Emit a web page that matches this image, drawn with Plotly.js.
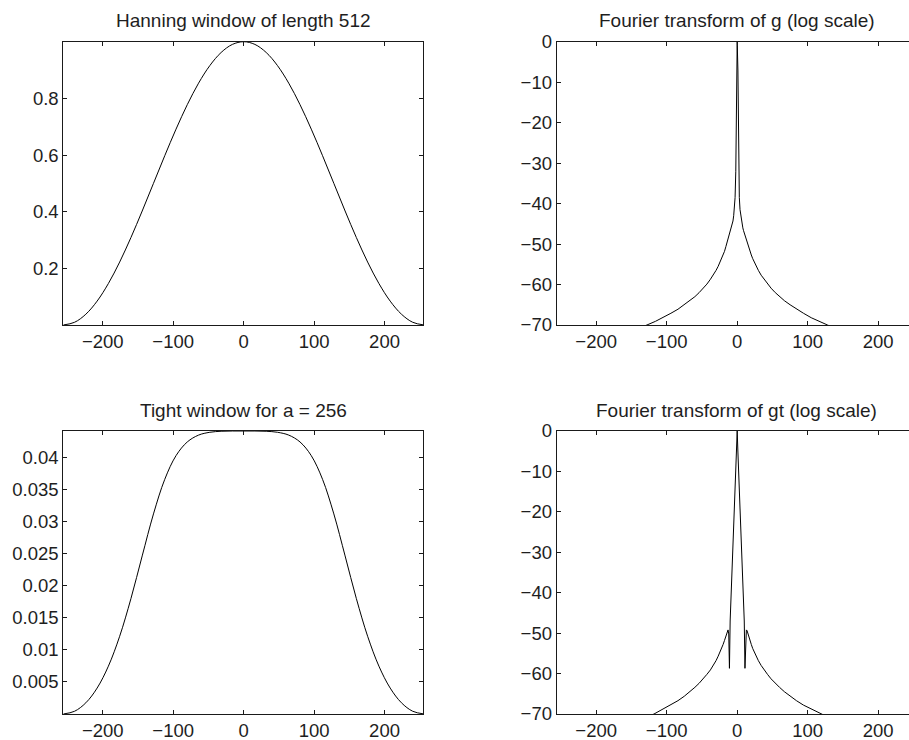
<!DOCTYPE html>
<html>
<head>
<meta charset="utf-8">
<script src="https://cdn.plot.ly/plotly-3.0.1.min.js"></script>
<style>
  html, body { margin: 0; padding: 0; overflow: hidden; background: #fff; }
  #chart { width: 920px; height: 740px; }
</style>
</head>
<body>
<div id="chart"></div>
<script>
// ---- Data ----
// Hanning window of length 512
const hannX = [-256,-240,-224,-208,-192,-176,-160,-144,-128,-112,-96,-80,-64,-48,-32,-16,0,
               16,32,48,64,80,96,112,128,144,160,176,192,208,224,240,256];
const hannY = [0,0.0096,0.0381,0.0843,0.1464,0.2222,0.3087,0.4024,0.5,0.5976,0.6913,0.7778,0.8536,0.9157,0.9619,0.9904,1,
               0.9904,0.9619,0.9157,0.8536,0.7778,0.6913,0.5976,0.5,0.4024,0.3087,0.2222,0.1464,0.0843,0.0381,0.0096,0];

// Tight window for a = 256
const tightX = [-256,-240,-224,-208,-192,-176,-160,-144,-128,-112,-96,-80,-64,-48,-32,-16,0,
                16,32,48,64,80,96,112,128,144,160,176,192,208,224,240,256];
const tightY = [0,0.00043,0.00175,0.00405,0.00747,0.01214,0.01802,0.02469,0.03125,0.03665,0.04035,0.04249,0.04356,0.0440,0.04416,0.0442,0.0442,
                0.0442,0.04416,0.0440,0.04356,0.04249,0.04035,0.03665,0.03125,0.02469,0.01802,0.01214,0.00747,0.00405,0.00175,0.00043,0];

// Fourier transform of g (dB)
const fgX = [-255,-220,-190,-165,-145,-128,-116,-105,-94,-84,-75,-67,-60,-54,-48,-43,-38,-34,-30,-27,-24,-22,-20,-18,-16,-14,-12,-10,-9,-8,-7,-6,-5,-4,-3,-2,-1,0,
             1,2,3,4,5,6,7,8,9,10,12,14,16,18,20,22,24,27,30,34,38,43,48,54,60,67,75,84,94,105,116,128,145,165,190,220,255];
const fgY = [-76.4,-75.0,-73.7,-72.4,-71.2,-70,-69.1,-68.2,-67.1,-66.1,-65.0,-64.0,-63.0,-62.0,-60.9,-59.9,-58.7,-57.7,-56.5,-55.5,-54.4,-53.6,-52.7,-51.8,-50.6,-49.4,-48.4,-47.3,-46.7,-46.0,-45.2,-44.3,-43,-41.5,-38.5,-32,-7,0,
             -7,-32,-38.5,-41.5,-43,-44.3,-45.2,-46.0,-46.7,-47.3,-48.4,-49.4,-50.6,-51.8,-52.7,-53.6,-54.4,-55.5,-56.5,-57.7,-58.7,-59.9,-60.9,-62.0,-63.0,-64.0,-65.0,-66.1,-67.1,-68.2,-69.1,-70,-71.2,-72.4,-73.7,-75.0,-76.4];

// Fourier transform of gt (dB)
const fgtX = [-255,-215,-180,-155,-135,-118,-105,-94,-84,-75,-67,-60,-54,-48,-43,-38,-34,-30,-27,-24,-22,-20,-18,-16,-14,-13,-12,-11,-10,-9,-8,-7,-6,-5,-4,-3,-2,-1,0,
              1,2,3,4,5,6,7,8,9,10,11,12,13,14,16,18,20,22,24,27,30,34,38,43,48,54,60,67,75,84,94,105,118,135,155,180,215,255];
const fgtY = [-77.4,-75.7,-74.0,-72.6,-71.3,-70,-68.8,-67.8,-66.7,-65.6,-64.5,-63.4,-62.4,-61.3,-60.2,-59.1,-58.0,-56.8,-55.7,-54.6,-53.8,-52.8,-51.8,-50.7,-49.4,-49.2,-50.2,-58.7,-47,-42.5,-38.8,-35,-30.6,-25.8,-20.8,-15.6,-10.4,-5.2,0,
              -5.2,-10.4,-15.6,-20.8,-25.8,-30.6,-35,-38.8,-42.5,-47,-58.7,-50.2,-49.2,-49.4,-50.7,-51.8,-52.8,-53.8,-54.6,-55.7,-56.8,-58.0,-59.1,-60.2,-61.3,-62.4,-63.4,-64.5,-65.6,-66.7,-67.8,-68.8,-70,-71.3,-72.6,-74.0,-75.7,-77.4];

// Tick labels
const xTicks = [-200,-100,0,100,200];
const xTickText = ['\u2212200','\u2212100','0','100','200'];
const hannTicks = [0.2,0.4,0.6,0.8];
const hannTickText = ['0.2','0.4','0.6','0.8'];
const tightTicks = [0.005,0.01,0.015,0.02,0.025,0.03,0.035,0.04];
const tightTickText = ['0.005','0.01','0.015','0.02','0.025','0.03','0.035','0.04'];
const dbTicks = [-70,-60,-50,-40,-30,-20,-10,0];
const dbTickText = ['\u221270','\u221260','\u221250','\u221240','\u221230','\u221220','\u221210','0'];

const titles = ['Hanning window of length 512','Fourier transform of g (log scale)',
                'Tight window for a = 256','Fourier transform of gt (log scale)'];

// ---- Layout ----
const W = 920, H = 740;
const fontFam = 'Liberation Sans, Arial, Helvetica, sans-serif';
const txtColor = '#1e1e1e';
const lineStyle = {color: '#000', width: 1};

function axisBase(extra) {
  return Object.assign({
    showline: true, mirror: 'allticks', linecolor: '#1a1a1a', linewidth: 1,
    ticks: 'inside', ticklen: 4, tickcolor: '#1a1a1a', tickwidth: 1,
    showgrid: false, zeroline: false, fixedrange: true,
    tickfont: {family: fontFam, size: 18.5, color: txtColor},
    tickmode: 'array'
  }, extra);
}

const colL = [63.3 / W, 423.3 / W];
const colR = [556.7 / W, 917 / W];
const rowT = [1 - 325 / H, 1 - 41.7 / H];
const rowB = [1 - 714 / H, 1 - 431 / H];

const traces = [
  {x: hannX, y: hannY, xaxis: 'x', yaxis: 'y', type: 'scatter', mode: 'lines', line: Object.assign({shape: 'spline'}, lineStyle), hoverinfo: 'skip'},
  {x: fgX, y: fgY, xaxis: 'x2', yaxis: 'y2', type: 'scatter', mode: 'lines', line: lineStyle, hoverinfo: 'skip'},
  {x: tightX, y: tightY, xaxis: 'x3', yaxis: 'y3', type: 'scatter', mode: 'lines', line: Object.assign({shape: 'spline'}, lineStyle), hoverinfo: 'skip'},
  {x: fgtX, y: fgtY, xaxis: 'x4', yaxis: 'y4', type: 'scatter', mode: 'lines', line: lineStyle, hoverinfo: 'skip'}
];

const xCommon = {range: [-256, 255], tickvals: xTicks, ticktext: xTickText};

const layout = {
  width: W, height: H,
  margin: {l: 0, r: 0, t: 0, b: 0},
  paper_bgcolor: '#fff', plot_bgcolor: '#fff',
  showlegend: false,
  font: {family: fontFam, color: txtColor},
  xaxis:  axisBase(Object.assign({domain: colL, anchor: 'y'}, xCommon)),
  yaxis:  axisBase({domain: rowT, anchor: 'x', range: [0, 1], tickvals: hannTicks, ticktext: hannTickText}),
  xaxis2: axisBase(Object.assign({domain: colR, anchor: 'y2'}, xCommon)),
  yaxis2: axisBase({domain: rowT, anchor: 'x2', range: [-70, 0], tickvals: dbTicks, ticktext: dbTickText}),
  xaxis3: axisBase(Object.assign({domain: colL, anchor: 'y3'}, xCommon)),
  yaxis3: axisBase({domain: rowB, anchor: 'x3', range: [0, 0.0442], tickvals: tightTicks, ticktext: tightTickText}),
  xaxis4: axisBase(Object.assign({domain: colR, anchor: 'y4'}, xCommon)),
  yaxis4: axisBase({domain: rowB, anchor: 'x4', range: [-70, 0], tickvals: dbTicks, ticktext: dbTickText}),
  annotations: [
    {text: titles[0], x: (colL[0] + colL[1]) / 2, y: 1 - 20.5 / H},
    {text: titles[1], x: (colR[0] + colR[1]) / 2, y: 1 - 20.5 / H},
    {text: titles[2], x: (colL[0] + colL[1]) / 2, y: 1 - 410 / H},
    {text: titles[3], x: (colR[0] + colR[1]) / 2, y: 1 - 410 / H}
  ].map(a => Object.assign({xref: 'paper', yref: 'paper', xanchor: 'center', yanchor: 'middle',
                            showarrow: false, font: {family: fontFam, size: 19, color: txtColor}}, a))
};

Plotly.newPlot('chart', traces, layout, {staticPlot: true, displayModeBar: false});
</script>
</body>
</html>
